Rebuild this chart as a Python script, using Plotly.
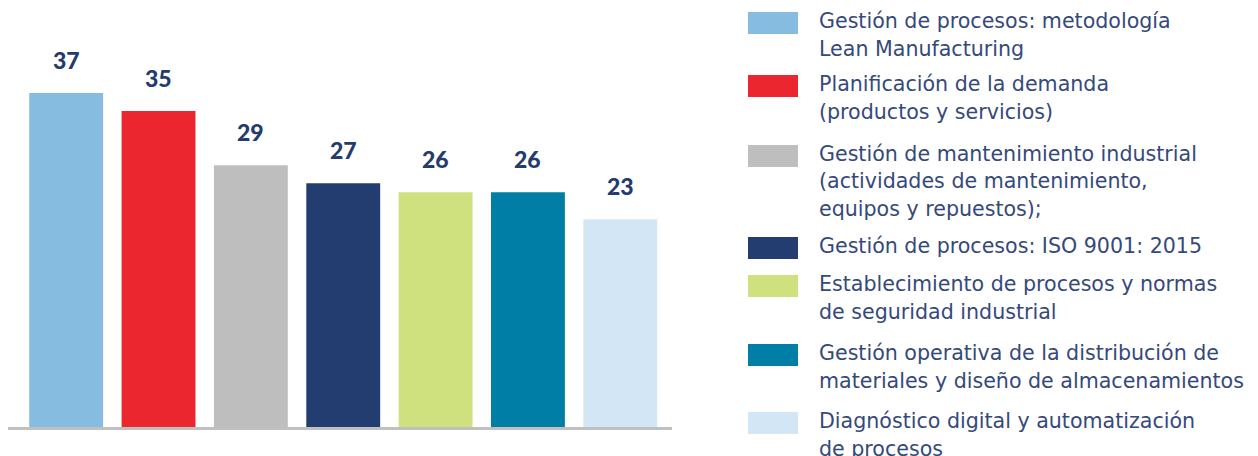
import plotly.graph_objects as go

categories = [
    "Gestión de procesos: metodología<br>Lean Manufacturing",
    "Planificación de la demanda<br>(productos y servicios)",
    "Gestión de mantenimiento industrial<br>(actividades de mantenimiento,<br>equipos y repuestos);",
    "Gestión de procesos: ISO 9001: 2015",
    "Establecimiento de procesos y normas<br>de seguridad industrial",
    "Gestión operativa de la distribución de<br>materiales y diseño de almacenamientos",
    "Diagnóstico digital y automatización<br>de procesos",
]
values = [37, 35, 29, 27, 26, 26, 23]
colors = ["#86bce0", "#ec262e", "#bebebe", "#233d71", "#cfe07f", "#007ea5", "#d3e6f6"]

OFF = 8  # page body margin
W, H = 1250, 448
ML, MR, MT, MB = 0, 586, 22, 29
PW, PH = W - ML - MR, H - MT - MB

def px_x(p):
    return (p - OFF - ML) / PW

def px_y(p):
    return (H - MB - (p - OFF)) / PH

xs = list(range(len(values)))
fig = go.Figure()
fig.add_trace(go.Bar(x=xs, y=values, marker=dict(color=colors, line=dict(width=0)),
                     width=0.8, showlegend=False, hoverinfo="skip"))

label_color = "#243b6e"
annotations = []
for x, v in zip(xs, values):
    annotations.append(dict(x=x, y=v, xref="x", yref="y", text=str(v), showarrow=False,
                            yanchor="bottom", yshift=17,
                            font=dict(family="Lato", size=23, color=label_color, weight=900)))

# custom legend
legend_y = [23, 86, 156, 248, 286, 355, 423]
shapes = []
text_color = "#35497a"
for cat, col, cy in zip(categories, colors, legend_y):
    shapes.append(dict(type="rect", xref="paper", yref="paper",
                       x0=px_x(748), x1=px_x(798), y0=px_y(cy + 11), y1=px_y(cy - 11),
                       fillcolor=col, line=dict(width=0), layer="above"))
    for i, line in enumerate(cat.split("<br>")):
        ly = cy - 2 + i * 27.5
        annotations.append(dict(x=px_x(817), y=px_y(ly), xref="paper", yref="paper",
                                text=line, showarrow=False, xanchor="left", yanchor="middle",
                                font=dict(family="DejaVu Sans", size=20.6, color=text_color)))

fig.update_layout(
    width=W, height=H,
    margin=dict(l=ML, r=MR, t=MT, b=MB, pad=0),
    paper_bgcolor="white", plot_bgcolor="white",
    xaxis=dict(range=[-0.63, 6.56], showticklabels=False, showgrid=False, zeroline=False,
               showline=True, linecolor="#c0c0c0", linewidth=3, ticks=""),
    yaxis=dict(range=[0, PH / 9.03], showticklabels=False, showgrid=False, zeroline=False,
               showline=False),
    annotations=annotations,
    shapes=shapes,
    bargap=0.2,
)

fig.write_html("out.html")
